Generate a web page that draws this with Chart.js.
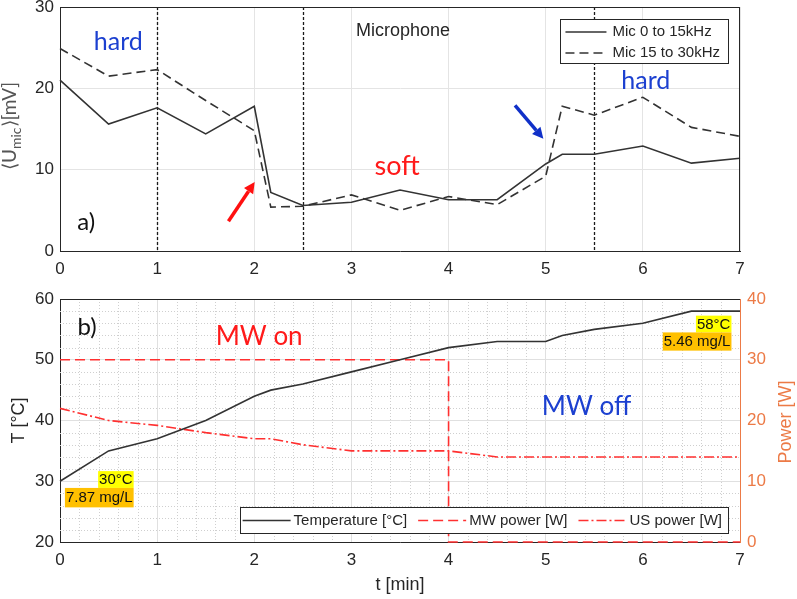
<!DOCTYPE html>
<html>
<head>
<meta charset="utf-8">
<script src="https://cdn.jsdelivr.net/npm/chart.js@4.4.0/dist/chart.umd.min.js"></script>
<style>
  html, body { margin: 0; padding: 0; background: #fff; }
  #wrap { position: relative; width: 797px; height: 599px; overflow: hidden; }
  canvas { position: absolute; left: 0; }
  #micChart { top: 0; }
  #tempChart { top: 280px; }
</style>
</head>
<body>
<div id="wrap">
  <canvas id="micChart" width="797" height="280"></canvas>
  <canvas id="tempChart" width="797" height="319"></canvas>
</div>
<script>
// ---- data ----
const micTimes = [0, 0.5, 1, 1.5, 2, 2.17, 2.5, 3, 3.5, 4, 4.5, 5, 5.17, 5.5, 6, 6.5, 7];
const micLow   = [21.0, 15.6, 17.6, 14.4, 17.8, 7.2, 5.6, 6.0, 7.5, 6.3, 6.3, 10.7, 11.9, 11.9, 12.9, 10.8, 11.4];
const micHigh  = [24.9, 21.5, 22.3, 18.5, 14.8, 5.4, 5.5, 6.9, 5.0, 6.7, 5.7, 9.2, 17.8, 16.7, 18.9, 15.2, 14.1];
const switchTimes = [1, 2.5, 5.5];

const tempTimes   = [0, 0.5, 1, 1.5, 2, 2.17, 2.5, 3, 3.5, 4, 4.5, 5, 5.17, 5.5, 6, 6.5, 7];
const temperature = [30, 35, 37, 40, 44, 45, 46, 48, 50, 52, 53, 53, 54, 55, 56, 58, 58];
const usPower     = [22, 20, 19.2, 18, 17, 17, 16, 15, 15, 15, 14, 14, 14, 14, 14, 14, 14];
const mwTimes = [0, 4, 4, 7];
const mwPower = [30, 30, 0, 0];

const FONT = "'Liberation Sans', Arial, sans-serif";
const SOFT = "Lato, 'Liberation Sans', sans-serif";
const INK = '#262626';
const RED = '#ff3030';
const BLUE = '#1c40d0';
const ORANGE = '#ec7a46';

const toPoints = (xs, ys) => xs.map((x, i) => ({ x: x, y: ys[i] }));

function label(ctx, text, x, y, font, color, align) {
    ctx.save();
    ctx.font = font;
    ctx.fillStyle = color;
    ctx.textAlign = align || 'center';
    ctx.textBaseline = 'middle';
    ctx.fillText(text, x, y);
    ctx.restore();
}

function arrow(ctx, x0, y0, x1, y1, color) {
    const ang = Math.atan2(y1 - y0, x1 - x0);
    const head = 11, half = 5.5;
    const bx = x1 - head * Math.cos(ang), by = y1 - head * Math.sin(ang);
    ctx.save();
    ctx.strokeStyle = color;
    ctx.fillStyle = color;
    ctx.lineWidth = 3.5;
    ctx.beginPath(); ctx.moveTo(x0, y0); ctx.lineTo(bx, by); ctx.stroke();
    ctx.beginPath();
    ctx.moveTo(x1, y1);
    ctx.lineTo(bx + half * Math.sin(ang), by - half * Math.cos(ang));
    ctx.lineTo(bx - half * Math.sin(ang), by + half * Math.cos(ang));
    ctx.closePath();
    ctx.fill();
    ctx.restore();
}

function sampleLine(ctx, d, x0, x1, y) {
    ctx.save();
    ctx.strokeStyle = d.borderColor;
    ctx.lineWidth = 1.5;
    ctx.setLineDash(d.borderDash || []);
    ctx.beginPath(); ctx.moveTo(x0, y); ctx.lineTo(x1, y); ctx.stroke();
    ctx.restore();
}

function frame(ctx, a, topColor, rightColor) {
    ctx.save();
    ctx.lineWidth = 1;
    ctx.strokeStyle = topColor;
    ctx.beginPath(); ctx.moveTo(a.left, a.top + 0.5); ctx.lineTo(a.right, a.top + 0.5); ctx.stroke();
    if (rightColor) {
        ctx.strokeStyle = rightColor;
        ctx.beginPath(); ctx.moveTo(a.right - 0.5, a.top); ctx.lineTo(a.right - 0.5, a.bottom); ctx.stroke();
    }
    ctx.restore();
}

// ---- top panel: microphone ----
const micDecor = {
    id: 'micDecor',
    beforeDatasetsDraw(chart) {
        const ctx = chart.ctx, a = chart.chartArea, xs = chart.scales.x;
        ctx.save();
        ctx.strokeStyle = '#1a1a1a';
        ctx.lineWidth = 1.3;
        ctx.setLineDash([3, 2]);
        switchTimes.forEach(t => {
            const x = Math.round(xs.getPixelForValue(t)) + 0.5;
            ctx.beginPath(); ctx.moveTo(x, a.top); ctx.lineTo(x, a.bottom); ctx.stroke();
        });
        ctx.restore();
    },
    afterDatasetsDraw(chart) {
        const ctx = chart.ctx, a = chart.chartArea;
        const X = v => chart.scales.x.getPixelForValue(v);
        const Y = v => chart.scales.y.getPixelForValue(v);
        frame(ctx, a, INK, INK);

        // legend
        ctx.save();
        ctx.font = '15px ' + FONT;
        const sets = chart.data.datasets;
        const tw = Math.max(...sets.map(d => ctx.measureText(d.label).width));
        const w = 52 + tw + 8, h = 44;
        const x0 = a.right - 12 - w, y0 = a.top + 12;
        ctx.fillStyle = '#fff';
        ctx.fillRect(x0, y0, w, h);
        ctx.strokeStyle = INK;
        ctx.strokeRect(Math.round(x0) + 0.5, y0 + 0.5, Math.round(w), h);
        ctx.restore();
        sets.forEach((d, i) => {
            const y = y0 + 13 + i * 21;
            sampleLine(ctx, d, x0 + 5, x0 + 46, y);
            label(ctx, d.label, x0 + 52, y, '15px ' + FONT, INK, 'left');
        });

        label(ctx, 'hard', X(0.6), Y(25.7), '25px ' + SOFT, BLUE);
        label(ctx, 'hard', X(6.03), Y(20.9), '25px ' + SOFT, BLUE);
        label(ctx, 'soft', X(3.47), Y(10.4), '27px ' + SOFT, '#ff1a1a');
        label(ctx, 'Microphone', X(3.53), Y(27.0), '18px ' + FONT, INK);
        label(ctx, 'a)', X(0.27), Y(3.5), '24px ' + SOFT, '#111');
        arrow(ctx, X(1.734), Y(3.65), X(2.004), Y(8.48), '#ff1010');
        arrow(ctx, X(4.684), Y(17.9), X(4.976), Y(13.8), '#1030c8');
    },
    afterDraw(chart) {
        // y title with subscript
        const ctx = chart.ctx;
        const parts = [['\u27E8U', '19px ' + SOFT, 0], ['mic', '14px ' + SOFT, 6], ['\u27E9[mV]', '19px ' + SOFT, 0]];
        ctx.save();
        ctx.fillStyle = '#555';
        ctx.textBaseline = 'middle';
        ctx.textAlign = 'left';
        let total = 0;
        parts.forEach(p => { ctx.font = p[1]; total += ctx.measureText(p[0]).width; });
        ctx.translate(10, 126);
        ctx.rotate(-Math.PI / 2);
        let pos = -total / 2;
        parts.forEach(p => {
            ctx.font = p[1];
            ctx.fillText(p[0], pos, p[2]);
            pos += ctx.measureText(p[0]).width;
        });
        ctx.restore();
    }
};

new Chart(document.getElementById('micChart'), {
    type: 'line',
    data: {
        datasets: [{
            label: 'Mic 0 to 15kHz',
            data: toPoints(micTimes, micLow),
            borderColor: '#333',
            borderWidth: 1.6,
            pointRadius: 0,
            clip: false
        }, {
            label: 'Mic 15 to 30kHz',
            data: toPoints(micTimes, micHigh),
            borderColor: '#333',
            borderWidth: 1.6,
            borderDash: [9, 5],
            pointRadius: 0,
            clip: false
        }]
    },
    options: {
        responsive: false,
        animation: false,
        devicePixelRatio: 1,
        layout: { padding: { left: 0, top: 7, right: 57, bottom: 0 } },
        plugins: { legend: { display: false }, tooltip: { enabled: false } },
        scales: {
            x: {
                type: 'linear', min: 0, max: 7,
                ticks: { stepSize: 1, color: INK, font: { family: FONT, size: 17 }, padding: 8 },
                grid: { color: '#e4e4e4', drawTicks: false },
                border: { color: INK },
                afterFit: s => { s.height = 29; s.paddingLeft = 0; s.paddingRight = 0; }
            },
            y: {
                min: 0, max: 30,
                ticks: { stepSize: 10, color: INK, font: { family: FONT, size: 17 }, padding: 6 },
                grid: { color: '#e4e4e4', drawTicks: false },
                border: { color: INK },
                afterFit: s => { s.width = 60; s.paddingTop = 0; s.paddingBottom = 0; }
            }
        }
    },
    plugins: [micDecor]
});

// ---- bottom panel: temperature and power ----
const tempDecor = {
    id: 'tempDecor',
    beforeDatasetsDraw(chart) {
        // minor grid, dotted
        const ctx = chart.ctx, a = chart.chartArea;
        const xs = chart.scales.x, ys = chart.scales.y;
        ctx.save();
        ctx.strokeStyle = '#cfcfcf';
        ctx.lineWidth = 1;
        ctx.setLineDash([1, 2]);
        for (let i = 1; i < 35; i++) {
            if (i % 5 === 0) continue;
            const x = Math.round(xs.getPixelForValue(i * 0.2)) + 0.5;
            ctx.beginPath(); ctx.moveTo(x, a.top); ctx.lineTo(x, a.bottom); ctx.stroke();
        }
        for (let t = 22; t < 60; t += 2) {
            if (t % 10 === 0) continue;
            const y = Math.round(ys.getPixelForValue(t)) + 0.5;
            ctx.beginPath(); ctx.moveTo(a.left, y); ctx.lineTo(a.right, y); ctx.stroke();
        }
        ctx.restore();
    },
    afterDatasetsDraw(chart) {
        const ctx = chart.ctx, a = chart.chartArea;
        const X = v => chart.scales.x.getPixelForValue(v);
        const Y = v => chart.scales.y.getPixelForValue(v);
        frame(ctx, a, INK, null);

        // legend, one row
        const sets = chart.data.datasets;
        ctx.save();
        ctx.font = '15px ' + FONT;
        const widths = sets.map(d => ctx.measureText(d.label).width);
        ctx.restore();
        const w = 3 + widths.reduce((s, tw) => s + 52 + tw, 0) + 10 * (sets.length - 1) + 5;
        const h = 26;
        const x0 = a.right - 12 - w, y0 = a.bottom - 35;
        ctx.save();
        ctx.fillStyle = '#fff';
        ctx.fillRect(x0, y0, w, h);
        ctx.strokeStyle = INK;
        ctx.strokeRect(Math.round(x0) + 0.5, y0 + 0.5, Math.round(w), h);
        ctx.restore();
        let cx = x0 + 3;
        sets.forEach((d, i) => {
            const y = y0 + h / 2 + 0.5;
            sampleLine(ctx, d, cx, cx + 48, y);
            label(ctx, d.label, cx + 51, y, '15px ' + FONT, INK, 'left');
            cx += 52 + widths[i] + 10;
        });

        label(ctx, 'b)', X(0.28), Y(55.3), '24px ' + SOFT, '#111');
        label(ctx, 'MW on', X(2.05), Y(53.8), '26px ' + SOFT, '#ff1a1a');
        label(ctx, 'MW off', X(5.42), Y(42.3), '26px ' + SOFT, BLUE);

        // highlighted start / end values
        const tag = (text, right, top, bottom, fill) => {
            ctx.save();
            ctx.font = '15px ' + FONT;
            const tw = ctx.measureText(text).width + 2;
            const yt = Y(top), yb = Y(bottom);
            ctx.fillStyle = fill;
            ctx.fillRect(X(right) - tw, yt, tw, yb - yt);
            ctx.restore();
            label(ctx, text, X(right) - 1, (yt + yb) / 2 + 0.5, '15px ' + FONT, '#111', 'right');
        };
        tag('30\u00B0C', 0.758, 31.67, 28.9, '#ffff00');
        tag('7.87 mg/L', 0.758, 28.9, 25.7, '#ffc000');
        tag('58\u00B0C', 6.912, 57.26, 54.5, '#ffff00');
        tag('5.46 mg/L', 6.912, 54.5, 51.5, '#ffc000');
    },
    afterDraw(chart) {
        const ctx = chart.ctx;
        ctx.save();
        ctx.font = '18px ' + FONT;
        ctx.fillStyle = ORANGE;
        ctx.textAlign = 'center';
        ctx.textBaseline = 'middle';
        ctx.translate(786, 142);
        ctx.rotate(-Math.PI / 2);
        ctx.fillText('Power [W]', 0, 0);
        ctx.restore();
    }
};

new Chart(document.getElementById('tempChart'), {
    type: 'line',
    data: {
        datasets: [{
            label: 'Temperature [\u00B0C]',
            data: toPoints(tempTimes, temperature),
            borderColor: '#333',
            borderWidth: 1.6,
            pointRadius: 0,
            yAxisID: 'y',
            clip: false
        }, {
            label: 'MW power [W]',
            data: toPoints(mwTimes, mwPower),
            borderColor: RED,
            borderWidth: 1.6,
            borderDash: [10, 5],
            pointRadius: 0,
            yAxisID: 'y1',
            clip: false
        }, {
            label: 'US power [W]',
            data: toPoints(tempTimes, usPower),
            borderColor: RED,
            borderWidth: 1.6,
            borderDash: [10, 3, 2, 3],
            pointRadius: 0,
            yAxisID: 'y1',
            clip: false
        }]
    },
    options: {
        responsive: false,
        animation: false,
        devicePixelRatio: 1,
        layout: { padding: { left: 0, top: 19, right: 0, bottom: 0 } },
        plugins: { legend: { display: false }, tooltip: { enabled: false } },
        scales: {
            x: {
                type: 'linear', min: 0, max: 7,
                ticks: { stepSize: 1, color: INK, font: { family: FONT, size: 17 }, padding: 8 },
                grid: { color: '#e0e0e0', drawTicks: false },
                border: { color: INK },
                title: { display: true, text: 't [min]', color: INK, font: { family: FONT, size: 18 }, padding: { top: 0, bottom: 3 } },
                afterFit: s => { s.height = 57; s.paddingLeft = 0; s.paddingRight = 0; }
            },
            y: {
                position: 'left', min: 20, max: 60,
                ticks: { stepSize: 10, color: INK, font: { family: FONT, size: 17 }, padding: 6 },
                grid: { color: '#e0e0e0', drawTicks: false },
                border: { color: INK },
                title: { display: true, text: 'T [\u00B0C]', color: INK, font: { family: FONT, size: 18 }, padding: { top: 8, bottom: 0 } },
                afterFit: s => { s.width = 60; s.paddingTop = 0; s.paddingBottom = 0; }
            },
            y1: {
                position: 'right', min: 0, max: 40,
                ticks: { stepSize: 10, color: ORANGE, font: { family: FONT, size: 17 }, padding: 7 },
                grid: { drawOnChartArea: false, drawTicks: false },
                border: { color: ORANGE },
                afterFit: s => { s.width = 57; s.paddingTop = 0; s.paddingBottom = 0; }
            }
        }
    },
    plugins: [tempDecor]
});
</script>
</body>
</html>
